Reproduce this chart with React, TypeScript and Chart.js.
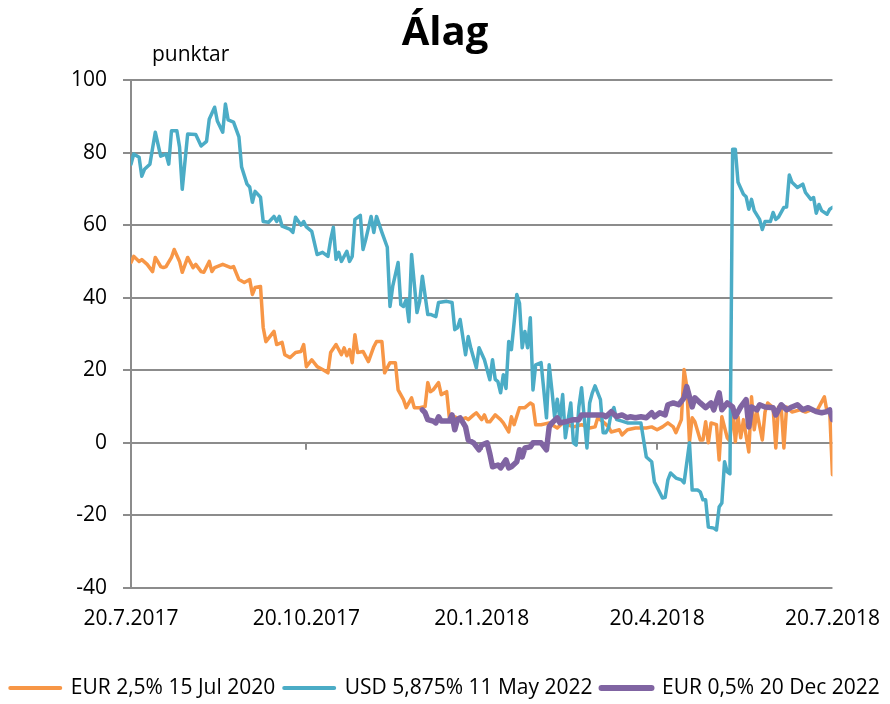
import React, { useEffect, useRef } from "react";
import { Chart, registerables } from "chart.js";

Chart.register(...registerables);

const TITLE = "Álag";
const Y_UNIT = "punktar";

const X_TICK_DAYS = [0, 65, 130, 195, 260];
const X_TICK_LABELS = ["20.7.2017", "20.10.2017", "20.1.2018", "20.4.2018", "20.7.2018"];

const SERIES_NAMES = ["EUR 2,5% 15 Jul 2020", "USD 5,875% 11 May 2022", "EUR 0,5% 20 Dec 2022"];

const EUR20_DAYS = [0, 1, 3, 4, 6, 8, 9, 11, 12, 13, 15, 16, 18, 19, 21, 23, 24, 26, 27, 29, 30, 31, 34, 37, 38, 40, 42, 44, 45, 46, 48, 49, 50, 53, 54, 56, 57, 59, 61, 63, 64, 65, 67, 69, 71, 73, 74, 76, 78, 79, 80, 81, 82, 83, 84, 86, 88, 90, 91, 93, 94, 96, 98, 99, 101, 102, 104, 105, 107, 109, 110, 111, 112, 114, 115, 117, 118, 120, 122, 124, 125, 127, 128, 130, 131, 132, 133, 135, 137, 138, 140, 141, 142, 144, 146, 148, 149, 150, 152, 155, 158, 160, 164, 167, 170, 172, 173, 175, 177, 178, 181, 182, 184, 187, 191, 193, 195, 197, 199, 201, 202, 204, 205, 206, 207, 208, 209, 211, 212, 213, 214, 215, 217, 218, 219, 221, 222, 223, 224, 225, 226, 227, 229, 230, 231, 232, 234, 235, 236, 238, 239, 240, 241, 242, 243, 245, 248, 250, 252, 254, 256, 257, 258, 259, 260];
const EUR20_VALUES = [49.7, 51.4, 50, 50.5, 49.2, 47.2, 51.1, 48.6, 48.3, 48.6, 51.1, 53.3, 50, 47, 51.1, 48.3, 49.2, 47.2, 47, 50, 47.2, 48.3, 49.2, 48.3, 48.6, 45, 44.2, 45, 40.9, 42.8, 43.1, 31.8, 27.9, 30.7, 27.1, 27.7, 24.3, 23.5, 24.9, 25.2, 27.1, 21, 22.9, 21, 20.2, 19.3, 24.9, 27.1, 24.3, 26.2, 24, 25.7, 22.1, 29.8, 24.9, 25.2, 22.4, 26.5, 27.9, 27.9, 19.3, 22.1, 22.1, 14.6, 11.9, 9.7, 12.4, 9.7, 9.7, 10, 16.6, 14.1, 14.6, 16.6, 13.3, 14.1, 6.9, 7.2, 6.4, 6.9, 6.4, 7.7, 8.3, 6.4, 7.7, 5.8, 5.8, 7.7, 6.4, 5.5, 3, 7.2, 5, 9.7, 9.7, 11, 10.5, 5, 5, 5.5, 4.1, 5.5, 4.4, 5, 4.1, 4.4, 6.9, 5.8, 4.4, 3, 3.6, 2.2, 3.6, 4.1, 4.1, 4.4, 3.6, 4.4, 5.5, 4.4, 2.8, 6.4, 20.2, 15.5, 0.3, 6.9, 5.8, 0.8, 0.8, 5.8, 0, 5.5, 5, -4.7, 7.2, 1.4, 0.5, 10, 0.3, 7.2, 1.4, 6.4, -2.5, 12.7, 3.6, 8.5, 0.8, 8.5, 11, 9.7, -1.4, 9.9, 9.9, -1.4, 9.9, 8.5, 9.1, 8.5, 9.1, 8.5, 11.3, 12.7, 8.5, 8.5, -8.8];

const USD22_DAYS = [0, 1, 3, 4, 5, 7, 9, 11, 13, 14, 15, 17, 18, 19, 21, 24, 26, 28, 29, 31, 32, 34, 35, 36, 38, 40, 41, 43, 44, 45, 46, 48, 49, 51, 53, 54, 55, 56, 59, 60, 61, 63, 64, 65, 67, 69, 71, 73, 74, 75, 76, 77, 78, 80, 81, 82, 83, 85, 86, 87, 89, 90, 91, 93, 95, 96, 97, 99, 100, 101, 102, 103, 104, 106, 107, 108, 110, 111, 113, 114, 117, 119, 120, 121, 122, 124, 125, 126, 128, 129, 131, 133, 134, 135, 136, 137, 138, 139, 140, 141, 142, 143, 144, 145, 146, 147, 148, 149, 150, 152, 153, 154, 155, 156, 157, 158, 159, 160, 161, 163, 164, 165, 166, 167, 169, 170, 171, 172, 174, 175, 176, 177, 178, 179, 180, 182, 184, 186, 189, 190, 191, 193, 194, 195, 197, 198, 199, 200, 202, 204, 205, 207, 208, 210, 211, 212, 213, 214, 216, 217, 218, 219, 220, 221, 222, 223, 224, 225, 227, 228, 229, 230, 231, 233, 234, 235, 237, 238, 239, 240, 242, 243, 244, 245, 247, 249, 250, 252, 253, 254, 255, 256, 258, 259, 260];
const USD22_VALUES = [76.8, 79.6, 78.7, 73.5, 75.4, 76.8, 85.6, 79, 79.6, 76.8, 86, 86, 81.5, 69.9, 85.1, 85, 81.8, 83.1, 89.2, 92.5, 88.7, 85.6, 93.4, 89, 88.4, 84.3, 76, 71.3, 70.5, 66.3, 69.3, 67.7, 61, 60.8, 62.4, 61, 62.4, 59.7, 58.8, 58, 62.2, 60, 61, 59.5, 58.3, 51.9, 52.5, 51.4, 56, 59.4, 50.6, 52.5, 50, 52.8, 50, 51.4, 61.6, 62.7, 53.3, 56, 62.4, 58, 62.4, 58, 53.9, 37.6, 43.1, 49.7, 38.1, 37.6, 39.5, 33.4, 51.9, 35.9, 39, 45.9, 35.4, 35.4, 34.8, 38.7, 39, 38.7, 31.2, 31.7, 34, 24.3, 29.3, 26, 20.7, 26.2, 22.9, 17.4, 22.9, 17.5, 16.9, 13.8, 18.8, 15, 27.9, 25.7, 33.1, 40.9, 38.5, 26.2, 30.7, 26.2, 34.5, 14.6, 21.5, 22.1, 14.6, 6.9, 21.5, 14.6, 7.2, 12, 6.4, 13.3, 1.4, 11, 0, -0.6, 9.9, 15.2, -1.4, 11, 13.8, 15.7, 11.9, 2.8, 2.8, 4.1, 8.3, 9.7, 6.4, 6, 5.5, 5.5, 5.5, 0.8, -3.9, -5.2, -10.8, -12.2, -15.2, -15, -10.2, -8.3, -9.7, -10.2, -11, 0, -13, -13, -13.5, -15.7, -15.7, -23.2, -23.5, -24, -17.7, -16.6, -5.2, -8, -8.5, 80.9, 80.9, 71.8, 68.5, 67.8, 64.4, 67.1, 64, 61.6, 58.8, 61, 61, 63.5, 61.6, 62.2, 64.9, 65, 73.8, 71.8, 70.4, 71.3, 69, 67.1, 67.6, 63.3, 65.7, 64, 63, 64.4, 64.9];

const EUR22_DAYS = [108, 109, 110, 112, 113, 114, 115, 118, 119, 120, 121, 122, 124, 125, 127, 129, 130, 132, 133, 134, 136, 137, 139, 140, 141, 143, 144, 145, 146, 148, 149, 152, 154, 155, 156, 158, 159, 161, 164, 166, 167, 170, 172, 175, 176, 178, 180, 182, 184, 185, 187, 189, 191, 193, 194, 196, 198, 199, 201, 203, 205, 206, 208, 209, 211, 213, 215, 216, 218, 219, 221, 223, 224, 226, 228, 229, 230, 232, 233, 235, 238, 239, 241, 243, 245, 247, 249, 251, 254, 256, 258, 259, 260];
const EUR22_VALUES = [9.1, 8.3, 6.4, 6, 5.5, 7.2, 6, 6, 7.7, 3.6, 6.4, 6.9, 4.4, 0.8, 0, -1.9, -0.6, 0, -3, -6.6, -6.1, -6.9, -4.7, -6.9, -6.6, -5.2, -1.9, -3.9, -1.4, -1.1, 0, 0, -1.9, 4.4, 5.5, 6.9, 5.5, 5.8, 6.4, 6.4, 7.7, 7.7, 7.7, 7.7, 7.2, 8.6, 7.2, 7.7, 6.9, 7.2, 6.9, 7.2, 6.9, 8.3, 7.2, 8.3, 7.7, 10.5, 11, 10.5, 12.4, 15.5, 9.9, 12.4, 11, 9.7, 11, 9.1, 13.8, 9.1, 11, 9.9, 7.2, 9.9, 11.9, 4.4, 9.9, 9.1, 10.5, 9.9, 9.7, 7.7, 10.5, 9.1, 9.9, 10.5, 9.1, 9.7, 8.6, 8.3, 8.6, 9.1, 6.4];

const COLORS = ["#F79646", "#4BACC6", "#8064A2"];
const WIDTHS = [3.5, 3.5, 5.5];
const GRID = "#8c8c8c";
const FONT = '"Open Sans", "DejaVu Sans", sans-serif';

function pts(xs: number[], ys: number[]) {
  return xs.map((x, i) => ({ x, y: ys[i] }));
}

const extras = {
  id: "extras",
  beforeDatasetsDraw(chart: any) {
    const { ctx, scales } = chart;
    const y0 = scales.y.getPixelForValue(0);
    ctx.save();
    ctx.strokeStyle = GRID;
    ctx.lineWidth = 2;
    X_TICK_DAYS.slice(1, -1).forEach((d) => {
      const x = Math.round(scales.x.getPixelForValue(d));
      ctx.beginPath();
      ctx.moveTo(x, y0);
      ctx.lineTo(x, y0 + 7);
      ctx.stroke();
    });
    ctx.restore();
  },
  afterDraw(chart: any) {
    const { ctx, chartArea } = chart;
    ctx.save();
    ctx.font = `21px ${FONT}`;
    ctx.fillStyle = "#000";
    ctx.textBaseline = "alphabetic";
    ctx.textAlign = "left";
    ctx.fillText(Y_UNIT, chartArea.left + 21, chartArea.top - 19);
    ctx.restore();
  },
};

export default function App() {
  const ref = useRef<HTMLCanvasElement | null>(null);
  useEffect(() => {
    if (!ref.current) return;
    Chart.defaults.font.family = FONT;
    Chart.defaults.color = "#000";
    const seriesX = [EUR20_DAYS, USD22_DAYS, EUR22_DAYS];
    const seriesY = [EUR20_VALUES, USD22_VALUES, EUR22_VALUES];
    const chart = new Chart(ref.current, {
      type: "line",
      data: {
        datasets: SERIES_NAMES.map((name, i) => ({
          label: name,
          data: pts(seriesX[i], seriesY[i]),
          borderColor: COLORS[i],
          backgroundColor: COLORS[i],
          borderWidth: WIDTHS[i],
          pointRadius: 0,
          tension: 0,
          fill: false,
          borderJoinStyle: "round",
          borderCapStyle: "round",
          order: 3 - i,
        })),
      },
      options: {
        animation: false,
        responsive: false,
        devicePixelRatio: 1,
        layout: { padding: { left: 0, right: 0, top: 0, bottom: -4.5 } },
        plugins: {
          title: {
            display: true,
            text: TITLE,
            color: "#000",
            font: { size: 40, weight: "bold", family: FONT },
            padding: { top: 10, bottom: 22 },
          },
          legend: {
            display: true,
            position: "bottom",
            labels: {
              usePointStyle: true,
              pointStyle: "line",
              pointStyleWidth: 50,
              padding: 9,
              color: "#000",
              font: { size: 21, family: FONT },
              sort: (a: any, b: any) => a.datasetIndex - b.datasetIndex,
              generateLabels: (ch: any) => {
                const base = Chart.defaults.plugins.legend.labels.generateLabels(ch);
                return base.map((it: any) => ({
                  ...it,
                  lineWidth: WIDTHS[it.datasetIndex] + 0.5,
                  lineCap: "round",
                  strokeStyle: COLORS[it.datasetIndex],
                  pointStyle: "line",
                }));
              },
            },
          },
          tooltip: { enabled: false },
        },
        scales: {
          x: {
            type: "linear",
            min: 0,
            max: 260,
            grid: { display: false },
            border: { display: false },
            afterFit: (s: any) => {
              s.height = 80.5;
            },
            afterBuildTicks: (s: any) => {
              s.ticks = X_TICK_DAYS.map((v) => ({ value: v }));
            },
            ticks: {
              autoSkip: false,
              maxRotation: 0,
              padding: 10,
              color: "#000",
              font: { size: 21, family: FONT },
              callback: (v: any) => X_TICK_LABELS[X_TICK_DAYS.indexOf(Number(v))] ?? "",
            },
          },
          y: {
            min: -40,
            max: 100,
            grid: { color: GRID, lineWidth: 2, tickLength: 8, drawTicks: true },
            border: { display: true, color: GRID, width: 2 },
            afterFit: (s: any) => {
              s.width = 131;
            },
            ticks: {
              stepSize: 20,
              padding: 16,
              color: "#000",
              font: { size: 21, family: FONT },
            },
          },
          yRight: {
            position: "right",
            min: -40,
            max: 100,
            grid: { display: false, drawOnChartArea: false },
            border: { display: false },
            ticks: { display: false },
            afterFit: (s: any) => {
              s.width = 56;
            },
          },
        },
      },
      plugins: [extras],
    } as any);
    return () => chart.destroy();
  }, []);
  return (
    <div style={{ position: "absolute", left: 0, top: 0, width: 890, height: 704, background: "#fff" }}>
      <canvas ref={ref} width={890} height={704} />
    </div>
  );
}
